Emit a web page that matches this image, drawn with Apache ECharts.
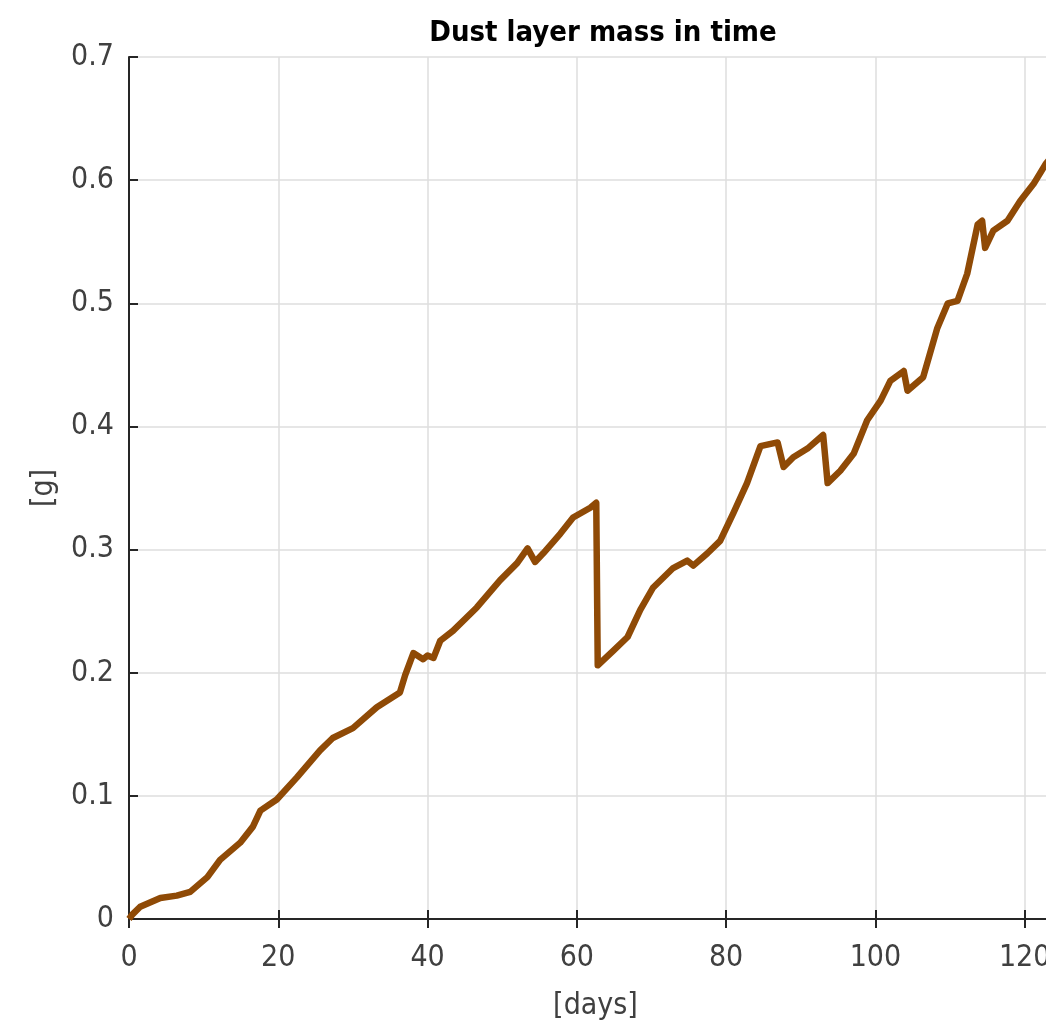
<!DOCTYPE html>
<html>
<head>
<meta charset="utf-8">
<title>Dust layer mass in time</title>
<script src="https://cdn.jsdelivr.net/npm/echarts@6/dist/echarts.min.js"></script>
<style>
  html, body { margin: 0; padding: 0; background: #fff; }
  #chart { width: 1046px; height: 1020px; }
</style>
</head>
<body>
<div id="chart"></div>
<script>
// data (days vs. dust mass in g)
const days = [0, 0.5, 1.5, 4.2, 6.4, 8.2, 10.5, 12.2, 14.9, 16.6, 17.6, 19.8, 22.5, 25.6, 27.3, 30.0,
  33.2, 36.3, 37.0, 38.1, 39.4, 40.0, 40.8, 41.7, 43.4, 46.6, 49.7, 52.0, 53.4, 54.4, 55.5, 57.8,
  59.5, 61.8, 62.6, 62.8, 64.9, 66.8, 68.5, 70.2, 72.9, 74.8, 75.6, 77.5, 79.2, 81.0, 82.8, 84.6,
  86.9, 87.7, 89.0, 90.9, 93.0, 93.6, 95.3, 97.1, 98.9, 100.7, 102.0, 103.8, 104.3, 106.4, 108.3,
  109.7, 111.0, 112.3, 113.7, 114.3, 114.7, 115.8, 117.7, 119.4, 121.2, 122.8, 124.0];
const mass = [0, 0.004, 0.010, 0.017, 0.019, 0.022, 0.034, 0.048, 0.062, 0.075, 0.088, 0.097, 0.115, 0.137, 0.147, 0.155,
  0.172, 0.184, 0.198, 0.216, 0.211, 0.214, 0.212, 0.226, 0.234, 0.253, 0.275, 0.289, 0.301, 0.290, 0.297, 0.313,
  0.326, 0.334, 0.338, 0.206, 0.218, 0.229, 0.251, 0.269, 0.285, 0.291, 0.287, 0.297, 0.307, 0.330, 0.354, 0.384,
  0.387, 0.367, 0.375, 0.382, 0.393, 0.354, 0.364, 0.378, 0.405, 0.421, 0.437, 0.445, 0.429, 0.440, 0.480,
  0.500, 0.502, 0.524, 0.564, 0.567, 0.545, 0.559, 0.567, 0.583, 0.597, 0.613, 0.622];
const xTicks = [0, 20, 40, 60, 80, 100, 120];
const yTicks = [0, 0.1, 0.2, 0.3, 0.4, 0.5, 0.6, 0.7];

const font = '"Liberation Sans Narrow", "DejaVu Sans Condensed", "Liberation Sans", Arial, sans-serif';
const axisColor = '#262626';

const chart = echarts.init(document.getElementById('chart'));
const option = {
  backgroundColor: '#ffffff',
  animation: false,
  title: {
    text: 'Dust layer mass in time',
    left: 598,
    textAlign: 'center',
    top: 14,
    textStyle: { fontFamily: font, fontWeight: 'bold', fontSize: 29, color: '#000' }
  },
  // the axes box runs a little past the right edge of the picture
  grid: { left: 129, top: 57, width: 933, height: 862, containLabel: false, outerBoundsMode: 'none' },
  xAxis: [
    {
      type: 'value',
      min: 0,
      max: 125,
      interval: 20,
      name: '[days]',
      nameLocation: 'middle',
      nameGap: 72,
      nameTextStyle: { fontFamily: font, fontSize: 30, color: '#404040' },
      axisLine: { show: true, onZero: false, lineStyle: { color: axisColor, width: 2 } },
      axisTick: { show: true, inside: true, length: 9, lineStyle: { color: axisColor, width: 2 } },
      axisLabel: {
        fontFamily: font, fontSize: 30, color: '#404040', margin: 24,
        formatter: v => (xTicks.indexOf(v) >= 0 ? String(v) : '')
      },
      splitLine: { show: true, lineStyle: { color: '#dedede', width: 1.5 } }
    },
    {
      type: 'value',
      position: 'top',
      min: 0,
      max: 125,
      interval: 20,
      axisLine: { show: true, lineStyle: { color: axisColor, width: 2 } },
      axisTick: { show: true, inside: true, length: 9, lineStyle: { color: axisColor, width: 2 } },
      axisLabel: { show: false },
      splitLine: { show: false }
    }
  ],
  yAxis: {
    type: 'value',
    min: 0,
    max: 0.7,
    interval: 0.1,
    name: '[g]',
    nameLocation: 'middle',
    nameGap: 70,
    nameRotate: 90,
    nameTextStyle: { fontFamily: font, fontSize: 30, color: '#404040' },
    axisLine: { show: true, lineStyle: { color: axisColor, width: 2 } },
    axisTick: { show: true, inside: true, length: 9, lineStyle: { color: axisColor, width: 2 } },
    axisLabel: {
      fontFamily: font, fontSize: 30, color: '#404040', margin: 15,
      formatter: v => {
        const r = Math.round(v * 10) / 10;
        return yTicks.indexOf(r) >= 0 ? (r === 0 ? '0' : r.toFixed(1)) : '';
      }
    },
    splitLine: { show: true, lineStyle: { color: '#dedede', width: 1.5 } }
  },
  series: [
    {
      name: 'Dust layer mass',
      type: 'line',
      xAxisIndex: 0,
      data: days.map((d, i) => [d, mass[i]]),
      showSymbol: false,
      smooth: false,
      lineStyle: { color: '#8f4a06', width: 6.5, join: 'round' },
      itemStyle: { color: '#8f4a06' }
    }
  ]
};
chart.setOption(option);
</script>
</body>
</html>
